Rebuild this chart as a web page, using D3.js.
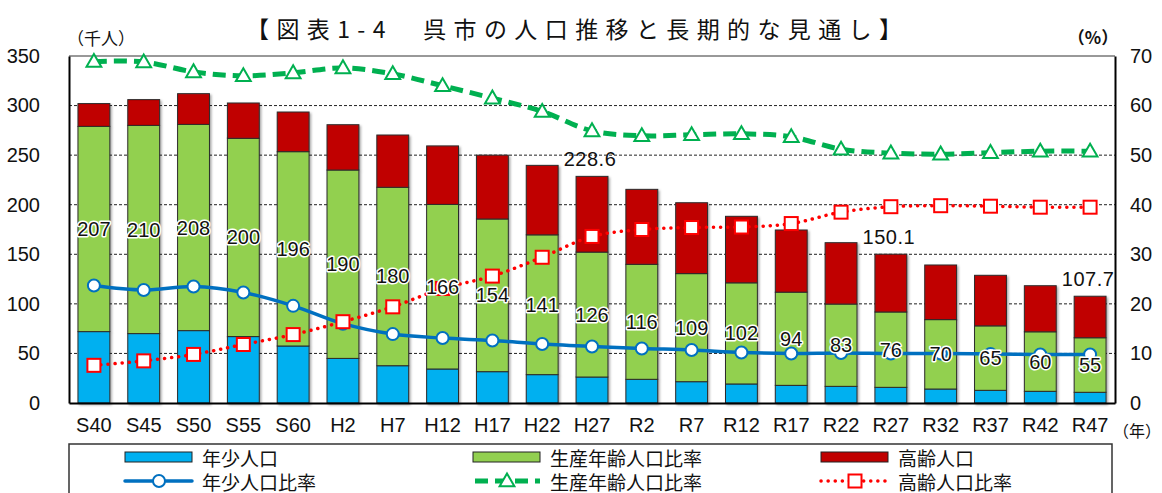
<!DOCTYPE html>
<html>
<head>
<meta charset="utf-8">
<script src="https://cdn.jsdelivr.net/npm/d3@7"></script>
<style>
  body { margin: 0; background: #fff; }
  svg { display: block; }
  .num { font-family: "Liberation Sans", "Roboto", sans-serif; }
  .jp { font-family: "Noto Sans CJK JP", "Noto Sans", sans-serif; }
</style>
</head>
<body>
<svg id="chart" width="1162" height="493"></svg>
<script>
// census / projection years
const years = ["S40", "S45", "S50", "S55", "S60", "H2", "H7", "H12", "H17", "H22",
  "H27", "R2", "R7", "R12", "R17", "R22", "R27", "R32", "R37", "R42", "R47"];

// population (thousand people)
const young = [72, 70, 73, 67, 57.5, 45, 37.6, 34.3, 31.6, 28.6,
  26.2, 23.9, 21.5, 19.2, 17.8, 16.8, 15.8, 14.1, 12.8, 11.8, 10.8];
const working = [207, 210, 208, 200, 196, 190, 180, 166, 154, 141,
  126, 116, 109, 102, 94, 83, 76, 70, 65, 60, 55];
const elderly = [23, 26, 31, 35.6, 40, 45.7, 52.7, 59, 64.4, 70.1,
  76.4, 75.6, 71.5, 67.1, 62.7, 61.9, 58.3, 55.1, 51, 46.5, 41.9];

// ratios (%)
const youngRatio = [23.7, 22.8, 23.5, 22.3, 19.6, 16.0, 13.9, 13.1, 12.6, 11.9,
  11.4, 11.0, 10.7, 10.2, 10.0, 10.1, 10.0, 10.0, 9.9, 9.8, 9.8];
const workingRatio = [68.9, 68.8, 66.8, 66.0, 66.6, 67.6, 66.4, 64.0, 61.5, 58.8,
  54.9, 53.9, 54.1, 54.3, 53.7, 51.2, 50.4, 50.2, 50.5, 50.8, 50.8];
const elderlyRatio = [7.6, 8.5, 9.8, 11.8, 13.8, 16.4, 19.4, 23.1, 25.6, 29.4,
  33.6, 35.0, 35.4, 35.5, 36.2, 38.5, 39.6, 39.8, 39.7, 39.5, 39.5];

// bars that carry a total label
const totalLabelYears = ["H27", "R27", "R47"];

const leftTicks = [0, 50, 100, 150, 200, 250, 300, 350];
const rightTicks = [0, 10, 20, 30, 40, 50, 60, 70];

const colors = {
  young: "#00B0F0",
  working: "#92D050",
  elderly: "#C00000",
  youngLine: "#0070C0",
  workingLine: "#00B050",
  elderlyLine: "#FF0000",
};

const margin = { top: 56, right: 47, bottom: 90, left: 69 };
const width = 1162;
const height = 493;
const plotBottom = height - margin.bottom; // 403
const plotRight = width - margin.right;    // 1115

const svg = d3.select("#chart");

const x = d3.scaleBand()
  .domain(years)
  .range([margin.left, plotRight])
  .paddingInner(0.36)
  .paddingOuter(0.18);
const cx = (d) => x(d) + x.bandwidth() / 2;

const yL = d3.scaleLinear().domain([0, 350]).range([plotBottom, margin.top]);
const yR = d3.scaleLinear().domain([0, 70]).range([plotBottom, margin.top]);

// drop shadow for bars
const defs = svg.append("defs");
const shadow = defs.append("filter").attr("id", "shadow")
  .attr("x", "-20%").attr("y", "-20%").attr("width", "140%").attr("height", "140%");
shadow.append("feDropShadow")
  .attr("dx", 1.5).attr("dy", 1.5).attr("stdDeviation", 1)
  .attr("flood-color", "#000").attr("flood-opacity", 0.35);

// title
svg.append("text")
  .attr("class", "jp")
  .attr("x", 246)
  .attr("y", 28)
  .attr("dominant-baseline", "central")
  .attr("textLength", 656)
  .attr("lengthAdjust", "spacing")
  .style("font-size", "23px")
  .style("font-weight", 400)
  .style("fill", "#111")
  .text("【図表1-4　呉市の人口推移と長期的な見通し】");

// unit labels
svg.append("text").attr("class", "jp")
  .attr("x", 101).attr("y", 37)
  .attr("text-anchor", "middle").attr("dominant-baseline", "central")
  .style("font-size", "17px").style("fill", "#111")
  .text("（千人）");
svg.append("text").attr("class", "jp")
  .attr("x", 1093).attr("y", 36)
  .attr("text-anchor", "middle").attr("dominant-baseline", "central")
  .style("font-size", "17px").style("fill", "#111").style("font-weight", 700)
  .text("（%）");
svg.append("text").attr("class", "jp")
  .attr("x", 1161).attr("y", 430)
  .attr("text-anchor", "end").attr("dominant-baseline", "central")
  .style("font-size", "16px").style("fill", "#111")
  .text("（年）");

// grid lines
svg.append("g")
  .selectAll("line")
  .data(leftTicks.filter((t) => t > 0 && t < 350))
  .join("line")
  .attr("x1", margin.left)
  .attr("x2", plotRight)
  .attr("y1", (d) => yL(d))
  .attr("y2", (d) => yL(d))
  .style("stroke", "#222")
  .style("stroke-width", 1)
  .style("stroke-dasharray", "3,2");

// top border
svg.append("line")
  .attr("x1", margin.left).attr("x2", plotRight)
  .attr("y1", yL(350)).attr("y2", yL(350))
  .style("stroke", "#333").style("stroke-width", 1);

// stacked bars
const rows = years.map((yr, i) => ({
  year: yr, young: young[i], working: working[i], elderly: elderly[i],
}));
const stack = d3.stack().keys(["young", "working", "elderly"]);
const series = stack(rows);

const barGroup = svg.append("g").attr("filter", "url(#shadow)");
series.forEach((s) => {
  barGroup.append("g")
    .selectAll("rect")
    .data(s)
    .join("rect")
    .attr("x", (d) => x(d.data.year))
    .attr("width", x.bandwidth())
    .attr("y", (d) => yL(d[1]))
    .attr("height", (d) => yL(d[0]) - yL(d[1]))
    .style("fill", colors[s.key])
    .style("stroke", "#2b2b2b")
    .style("stroke-width", 1);
});

// axes
const axisLeft = svg.append("g")
  .attr("class", "num")
  .attr("transform", `translate(${margin.left},0)`)
  .call(d3.axisLeft(yL).tickValues(leftTicks).tickSize(0).tickPadding(29));
axisLeft.select(".domain").style("stroke", "#000").style("stroke-width", 2);

const axisRight = svg.append("g")
  .attr("class", "num")
  .attr("transform", `translate(${plotRight},0)`)
  .call(d3.axisRight(yR).tickValues(rightTicks).tickSize(0).tickPadding(15));
axisRight.select(".domain").style("stroke", "#000").style("stroke-width", 2);

const axisBottom = svg.append("g")
  .attr("class", "num")
  .attr("transform", `translate(0,${plotBottom})`)
  .call(d3.axisBottom(x).tickSize(0));
axisBottom.select(".domain").style("stroke", "#000").style("stroke-width", 2);
axisBottom.selectAll("text").attr("y", 22).attr("dy", "0.35em");

svg.selectAll(".tick text")
  .style("font-size", "20px")
  .style("fill", "#111");

// ratio lines
const lineGen = d3.line()
  .x((d, i) => cx(years[i]))
  .y((d) => yR(d))
  .curve(d3.curveCatmullRom.alpha(0.5));

function drawLine(values, color, width, dash, cap) {
  svg.append("path")
    .datum(values)
    .attr("d", lineGen)
    .style("fill", "none")
    .style("stroke", color)
    .style("stroke-width", width)
    .style("stroke-dasharray", dash)
    .style("stroke-linecap", cap);
}

function drawTriangles(values) {
  svg.append("g")
    .selectAll("path")
    .data(values)
    .join("path")
    .attr("d", d3.symbol(d3.symbolTriangle, 95))
    .attr("transform", (d, i) => `translate(${cx(years[i])},${yR(d) + 1})`)
    .style("fill", "#fff")
    .style("stroke", colors.workingLine)
    .style("stroke-width", 2);
}

function drawCircles(values) {
  svg.append("g")
    .selectAll("circle")
    .data(values)
    .join("circle")
    .attr("cx", (d, i) => cx(years[i]))
    .attr("cy", (d) => yR(d))
    .attr("r", 6)
    .style("fill", "#fff")
    .style("stroke", colors.youngLine)
    .style("stroke-width", 2);
}

function drawSquares(values) {
  svg.append("g")
    .selectAll("rect")
    .data(values)
    .join("rect")
    .attr("x", (d, i) => cx(years[i]) - 6.5)
    .attr("y", (d) => yR(d) - 6.5)
    .attr("width", 13)
    .attr("height", 13)
    .style("fill", "#fff")
    .style("stroke", colors.elderlyLine)
    .style("stroke-width", 2);
}

drawLine(workingRatio, colors.workingLine, 5, "13,7", "butt");
drawTriangles(workingRatio);
drawLine(youngRatio, colors.youngLine, 3.5, null, "round");
drawCircles(youngRatio);
drawLine(elderlyRatio, colors.elderlyLine, 3.5, "0.1,7", "round");
drawSquares(elderlyRatio);

// working-age labels, centred in green segment
svg.append("g")
  .attr("class", "num")
  .selectAll("text")
  .data(series[1])
  .join("text")
  .attr("x", (d) => cx(d.data.year))
  .attr("y", (d) => yL((d[0] + d[1]) / 2))
  .attr("text-anchor", "middle")
  .attr("dominant-baseline", "central")
  .style("font-size", "20px")
  .style("fill", "#111")
  .style("stroke", "#fff")
  .style("stroke-width", 3)
  .style("stroke-linejoin", "round")
  .style("paint-order", "stroke")
  .text((d) => d.data.working);

// total labels
const totalSeries = series[2].filter((d) => totalLabelYears.includes(d.data.year));
svg.append("g")
  .attr("class", "num")
  .selectAll("text")
  .data(totalSeries)
  .join("text")
  .attr("x", (d) => cx(d.data.year) - 2)
  .attr("y", (d) => yL(d[1]) - 10)
  .attr("text-anchor", "middle")
  .style("font-size", "20px")
  .style("letter-spacing", "0.5px")
  .style("fill", "#111")
  .text((d) => d[1].toFixed(1));

// legend
const legend = svg.append("g");
legend.append("rect")
  .attr("x", margin.left)
  .attr("y", 444)
  .attr("width", 1043)
  .attr("height", 60)
  .style("fill", "#fff")
  .style("stroke", "#333")
  .style("stroke-width", 1.5);

const legendCols = [125, 473, 821];
const legendRows = [457, 481];
const legendItems = [
  { label: "年少人口", type: "bar", color: colors.young, col: 0, row: 0 },
  { label: "生産年齢人口比率", type: "bar", color: colors.working, col: 1, row: 0 },
  { label: "高齢人口", type: "bar", color: colors.elderly, col: 2, row: 0 },
  { label: "年少人口比率", type: "circle", color: colors.youngLine, col: 0, row: 1 },
  { label: "生産年齢人口比率", type: "triangle", color: colors.workingLine, col: 1, row: 1 },
  { label: "高齢人口比率", type: "square", color: colors.elderlyLine, col: 2, row: 1 },
];

legendItems.forEach((it) => {
  const lx = legendCols[it.col];
  const ly = legendRows[it.row];
  const g = legend.append("g");
  if (it.type === "bar") {
    g.append("rect")
      .attr("x", lx).attr("y", ly - 5)
      .attr("width", 67).attr("height", 10)
      .style("fill", it.color).style("stroke", "#222").style("stroke-width", 1);
  } else {
    const ln = g.append("line")
      .attr("x1", lx).attr("x2", lx + 67)
      .attr("y1", ly).attr("y2", ly)
      .style("stroke", it.color);
    if (it.type === "circle") {
      ln.style("stroke-width", 3.5).style("stroke-linecap", "round");
      g.append("circle").attr("cx", lx + 34).attr("cy", ly).attr("r", 6)
        .style("fill", "#fff").style("stroke", it.color).style("stroke-width", 2);
    } else if (it.type === "triangle") {
      ln.style("stroke-width", 5).style("stroke-dasharray", "13,7").attr("x1", lx + 2);
      g.append("path").attr("d", d3.symbol(d3.symbolTriangle, 95))
        .attr("transform", `translate(${lx + 34},${ly + 1})`)
        .style("fill", "#fff").style("stroke", it.color).style("stroke-width", 2);
    } else {
      ln.style("stroke-width", 3.5).style("stroke-dasharray", "0.1,7").style("stroke-linecap", "round");
      g.append("rect").attr("x", lx + 27.5).attr("y", ly - 6.5)
        .attr("width", 13).attr("height", 13)
        .style("fill", "#fff").style("stroke", it.color).style("stroke-width", 2);
    }
  }
  g.append("text")
    .attr("class", "jp")
    .attr("x", lx + 77)
    .attr("y", ly)
    .attr("dominant-baseline", "central")
    .style("font-size", "19px")
    .style("fill", "#111")
    .text(it.label);
});
</script>
</body>
</html>
